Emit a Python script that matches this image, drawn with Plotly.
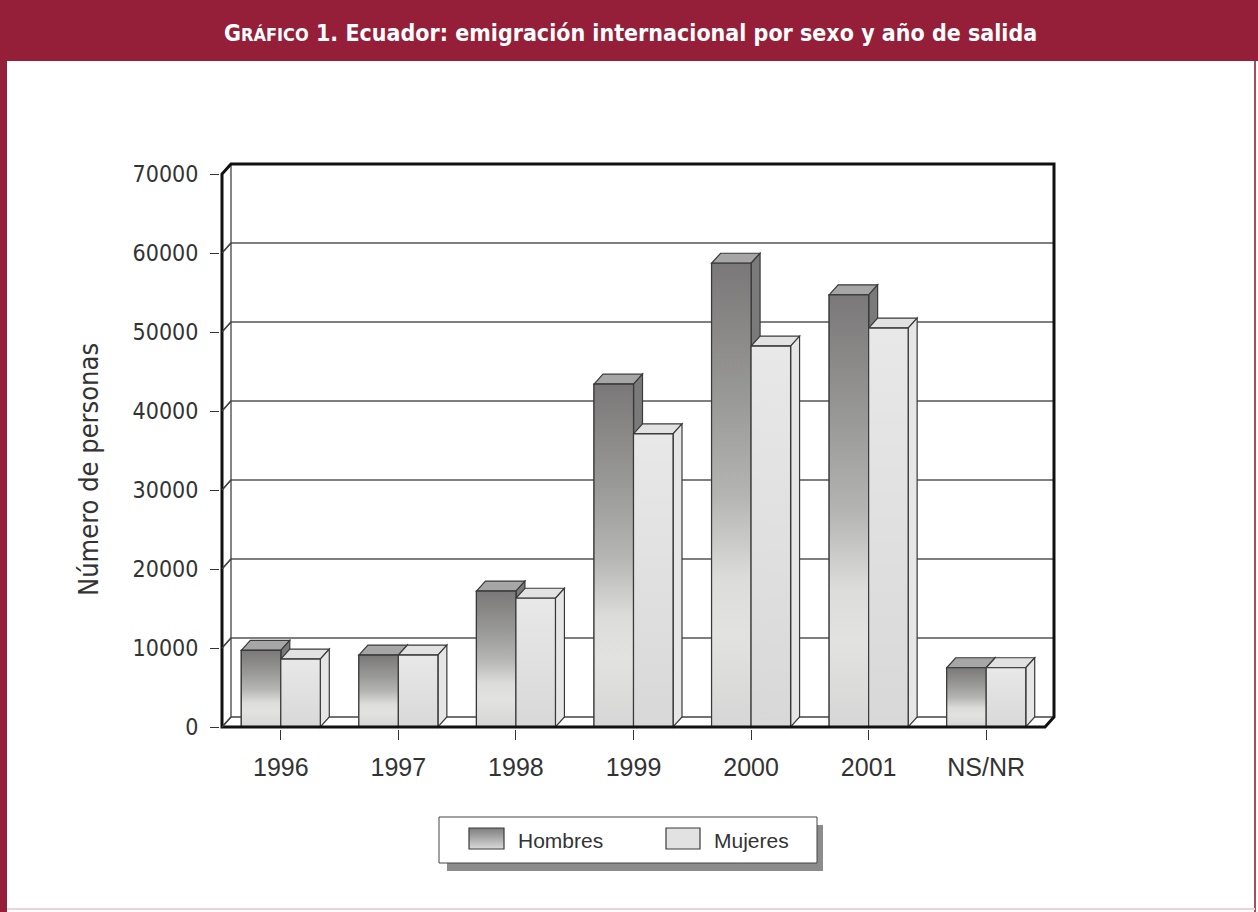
import plotly.graph_objects as go

# ---------------- data ----------------
categories = ["1996", "1997", "1998", "1999", "2000", "2001", "NS/NR"]
hombres = [9700, 9100, 17200, 43400, 58700, 54700, 7500]
mujeres = [8600, 9100, 16300, 37100, 48200, 50500, 7500]
y_ticks = [0, 10000, 20000, 30000, 40000, 50000, 60000, 70000]
series_names = ["Hombres", "Mujeres"]
title_text = ("G<span style='font-size:18px'>RÁFICO</span> 1. Ecuador: emigración "
              "internacional por sexo y año de salida")
y_title = "Número de personas"

# ---------------- geometry (pixels) ----------------
W, H = 1258, 912
N = len(categories)
PX_CAT = 823 / N          # pixels per category
FRONT_L = 222             # front-left x of plot floor
Y0 = 727                  # pixel of value 0 (front)
YTOP = 174                # pixel of value 70000 (front)
YMAX = y_ticks[-1]
PPU = (Y0 - YTOP) / YMAX  # pixels per unit
DX, DY = 9, 10            # 3-D depth offset
PAD = 2
BARW_PX = 39.5

bw = BARW_PX / PX_CAT
dxv = DX / PX_CAT
dyv = DY / PPU

ml = FRONT_L - PAD
pw = N * PX_CAT + DX + 2 * PAD
mr = W - ml - pw
mb = H - (Y0 + PAD)
ph = (Y0 - YTOP) + DY + 2 * PAD
mt = H - mb - ph

xr = [-0.5 - PAD / PX_CAT, N - 0.5 + (DX + PAD) / PX_CAT]
yr = [-PAD / PPU, YMAX + (DY + PAD) / PPU]


def px(xp):
    return (xp - ml) / pw


def py(yp):
    return (H - mb - yp) / ph


NARROW = "Liberation Sans Narrow, DejaVu Sans Condensed, Arial Narrow, sans-serif"
REG = "Liberation Sans, Arial, Helvetica, sans-serif"
RED = "#951e38"
OUTLINE = "#3a3a3a"

shapes = []
xL = -0.5
xR = N - 0.5

# back wall grid lines
for t in y_ticks[1:-1]:
    shapes.append(dict(type="path", xref="x", yref="y", layer="below",
                       path=f"M {xL},{t} L {xL+dxv},{t+dyv} L {xR+dxv},{t+dyv}",
                       line=dict(color="#555555", width=1.3)))
# back wall / floor thin lines
shapes.append(dict(type="path", xref="x", yref="y", layer="below",
                   path=f"M {xL},0 L {xL+dxv},{dyv} L {xR+dxv},{dyv} M {xL+dxv},{dyv} L {xL+dxv},{YMAX+dyv}",
                   line=dict(color="#444444", width=1.3)))

# 3-D top and side faces of bars
for i in range(N):
    for s, (vals, topc, sidec) in enumerate([(hombres, "#a6a6a6", "#7a7a7a"),
                                             (mujeres, "#e2e2e2", "#e6e6e6")]):
        v = vals[i]
        x_l = i - bw if s == 0 else i
        x_r = x_l + bw
        shapes.append(dict(type="path", xref="x", yref="y", layer="below",
                           path=f"M {x_l},{v} L {x_r},{v} L {x_r+dxv},{v+dyv} L {x_l+dxv},{v+dyv} Z",
                           fillcolor=topc, line=dict(color=OUTLINE, width=1.2)))
        shapes.append(dict(type="path", xref="x", yref="y", layer="below",
                           path=f"M {x_r},0 L {x_r},{v} L {x_r+dxv},{v+dyv} L {x_r+dxv},{dyv} Z",
                           fillcolor=sidec, line=dict(color=OUTLINE, width=1.2)))

# thick outer frame of the 3-D box
shapes.append(dict(type="path", xref="x", yref="y", layer="above",
                   path=(f"M {xL},0 L {xL},{YMAX} L {xL+dxv},{YMAX+dyv} L {xR+dxv},{YMAX+dyv} "
                         f"L {xR+dxv},{dyv} L {xR},0 Z"),
                   line=dict(color="#111111", width=3)))
# small tick connectors on the left wall
for t in y_ticks[:-1]:
    shapes.append(dict(type="line", xref="x", yref="y", layer="above",
                       x0=xL, y0=t, x1=xL + dxv, y1=t + dyv,
                       line=dict(color="#444444", width=1.2)))

# header band and page frame
shapes.append(dict(type="rect", xref="paper", yref="paper", layer="above",
                   x0=px(0), x1=px(W), y0=py(0), y1=py(61),
                   fillcolor=RED, line=dict(width=0)))
shapes.append(dict(type="rect", xref="paper", yref="paper", layer="above",
                   x0=px(0), x1=px(7), y0=py(61), y1=py(H),
                   fillcolor=RED, line=dict(width=0)))
shapes.append(dict(type="line", xref="paper", yref="paper", layer="above",
                   x0=px(1255), x1=px(1255), y0=py(61), y1=py(H),
                   line=dict(color="#a0505f", width=2)))
shapes.append(dict(type="line", xref="paper", yref="paper", layer="above",
                   x0=px(7), x1=px(1255), y0=py(909), y1=py(909),
                   line=dict(color="#ecd3da", width=2)))

# manual legend
shapes.append(dict(type="rect", xref="paper", yref="paper", layer="above",
                   x0=px(447), x1=px(823), y0=py(825), y1=py(871),
                   fillcolor="#8c8c8c", line=dict(width=0)))
shapes.append(dict(type="rect", xref="paper", yref="paper", layer="above",
                   x0=px(439), x1=px(817), y0=py(817), y1=py(863),
                   fillcolor="white", line=dict(color="#444444", width=1)))
# gradient swatch for Hombres (strips)
sw_top, sw_bot = 828, 849
n_strip = sw_bot - sw_top
for k in range(n_strip):
    f = k / (n_strip - 1)
    c = int(0x80 + (0xd8 - 0x80) * f)
    shapes.append(dict(type="rect", xref="paper", yref="paper", layer="above",
                       x0=px(469), x1=px(504), y0=py(sw_top + k), y1=py(sw_top + k + 1),
                       fillcolor=f"rgb({c},{c},{c})", line=dict(width=0)))
shapes.append(dict(type="rect", xref="paper", yref="paper", layer="above",
                   x0=px(469), x1=px(504), y0=py(sw_top), y1=py(sw_bot),
                   line=dict(color=OUTLINE, width=1.2)))
shapes.append(dict(type="rect", xref="paper", yref="paper", layer="above",
                   x0=px(666), x1=px(700), y0=py(sw_top), y1=py(sw_bot),
                   fillcolor="#e2e2e2", line=dict(color=OUTLINE, width=1.2)))

annotations = [
    dict(text=title_text, xref="paper", yref="paper", x=px(630), y=py(33),
         showarrow=False, xanchor="center", yanchor="middle",
         font=dict(family=NARROW, size=23, color="white", weight="bold")),
    dict(text=y_title, xref="paper", yref="paper", x=px(88), y=py(470),
         showarrow=False, textangle=-90, xanchor="center", yanchor="middle",
         font=dict(family=NARROW, size=27, color="#333333")),
    dict(text=series_names[0], xref="paper", yref="paper", x=px(516), y=py(840),
         showarrow=False, xanchor="left", yanchor="middle",
         font=dict(family=REG, size=21, color="#333333")),
    dict(text=series_names[1], xref="paper", yref="paper", x=px(712), y=py(840),
         showarrow=False, xanchor="left", yanchor="middle",
         font=dict(family=REG, size=21, color="#333333")),
]

xs = list(range(N))
fig = go.Figure()
fig.add_trace(go.Bar(x=xs, y=hombres, width=bw, offset=-bw, name=series_names[0],
                     marker=dict(color="#b0b0b0", line=dict(color=OUTLINE, width=1.2)),
                     showlegend=False))
fig.add_trace(go.Bar(x=xs, y=mujeres, width=bw, offset=0, name=series_names[1],
                     marker=dict(color="#e2e2e2", line=dict(color=OUTLINE, width=1.2)),
                     showlegend=False))

# gradient front faces (drawn over the bars, same geometry)
h_scale = [[0, "#d6d6d6"], [0.2, "#e2e2e0"], [0.32, "#dcdcda"], [0.5, "#b4b4b2"],
           [0.7, "#9a9a98"], [1, "#7a7878"]]
m_scale = [[0, "#d8d8d8"], [1, "#e8e8e8"]]
for i in range(N):
    for s, (vals, cs) in enumerate([(hombres, h_scale), (mujeres, m_scale)]):
        v = vals[i]
        x_l = i - bw if s == 0 else i
        x_r = x_l + bw
        fig.add_trace(go.Scatter(
            x=[x_l, x_r, x_r, x_l, x_l], y=[0, 0, v, v, 0], mode="lines",
            fill="toself", fillgradient=dict(type="vertical", colorscale=cs),
            line=dict(color=OUTLINE, width=1.2), hoverinfo="skip", showlegend=False))

fig.update_layout(
    width=W, height=H,
    margin=dict(l=ml, r=mr, t=mt, b=mb, pad=0, autoexpand=False),
    paper_bgcolor="white", plot_bgcolor="white",
    barmode="overlay", showlegend=False,
    shapes=shapes, annotations=annotations,
    xaxis=dict(range=xr, tickmode="array", tickvals=xs, ticktext=categories,
               ticks="outside", ticklen=10, tickwidth=1.3, tickcolor="#333333",
               showgrid=False, zeroline=False, showline=False,
               ticklabelstandoff=6,
               tickfont=dict(family=REG, size=25, color="#333333")),
    yaxis=dict(range=yr, tickmode="array", tickvals=y_ticks,
               ticktext=[str(t) for t in y_ticks],
               ticks="outside", ticklen=9, tickwidth=1.3, tickcolor="#333333",
               showgrid=False, zeroline=False, showline=False,
               ticklabelstandoff=7,
               tickfont=dict(family=NARROW, size=23, color="#333333")),
)

fig.write_html("out.html")
